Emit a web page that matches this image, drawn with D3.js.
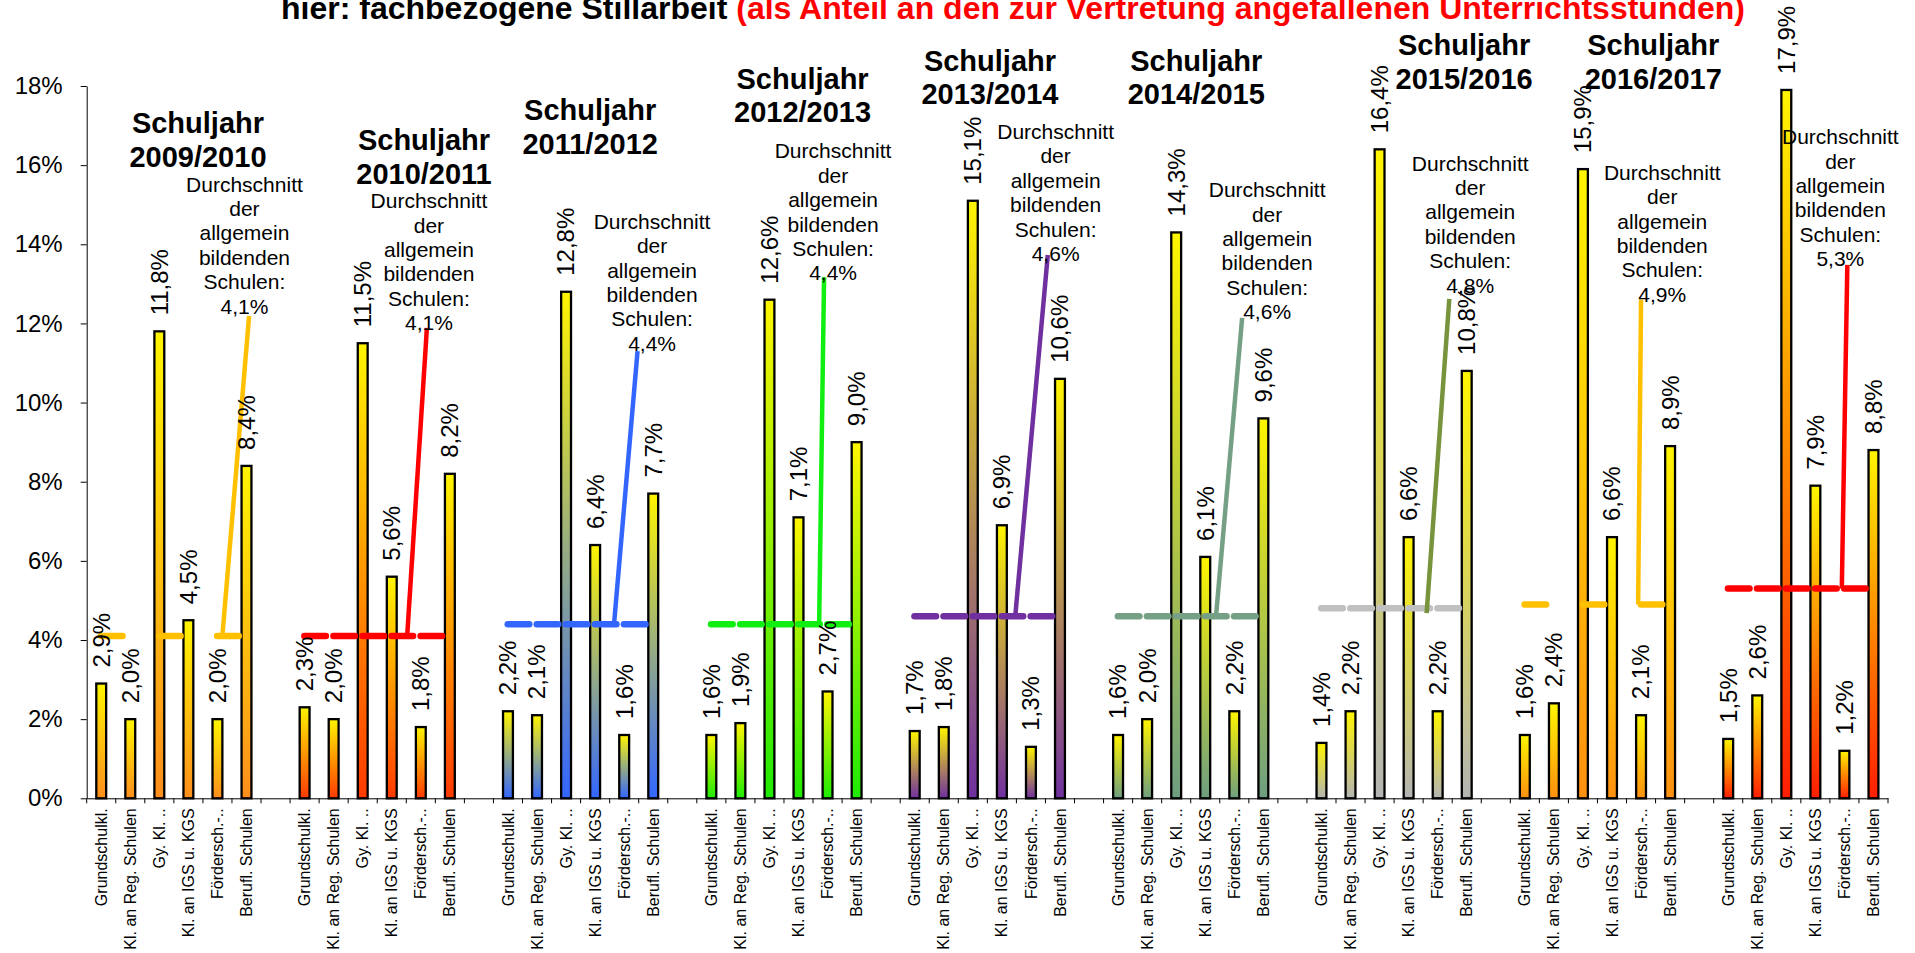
<!DOCTYPE html>
<html lang="de">
<head>
<meta charset="utf-8">
<title>Fachbezogene Stillarbeit</title>
<script src="https://cdn.jsdelivr.net/npm/d3@7"></script>
<style>
  html, body { margin: 0; padding: 0; background: #fff; }
  svg { display: block; font-family: "Liberation Sans", Arial, sans-serif; }
</style>
</head>
<body>
<svg id="chart" width="1915" height="953"></svg>
<script>
// ---- Daten ----------------------------------------------------------------
const schoolYears = ["2009/2010", "2010/2011", "2011/2012", "2012/2013", "2013/2014",
                     "2014/2015", "2015/2016", "2016/2017", "2017/2018"];
const schoolTypes = ["Grundschulkl.", "Kl. an Reg. Schulen", "Gy. Kl. ..",
                     "Kl. an IGS u. KGS", "Fördersch.-..", "Berufl. Schulen"];

const sj2009 = [2.9, 2.0, 11.8, 4.5, 2.0, 8.4];
const sj2010 = [2.3, 2.0, 11.5, 5.6, 1.8, 8.2];
const sj2011 = [2.2, 2.1, 12.8, 6.4, 1.6, 7.7];
const sj2012 = [1.6, 1.9, 12.6, 7.1, 2.7, 9.0];
const sj2013 = [1.7, 1.8, 15.1, 6.9, 1.3, 10.6];
const sj2014 = [1.6, 2.0, 14.3, 6.1, 2.2, 9.6];
const sj2015 = [1.4, 2.2, 16.4, 6.6, 2.2, 10.8];
const sj2016 = [1.6, 2.4, 15.9, 6.6, 2.1, 8.9];
const sj2017 = [1.5, 2.6, 17.9, 7.9, 1.2, 8.8];
const seriesValues = [sj2009, sj2010, sj2011, sj2012, sj2013, sj2014, sj2015, sj2016, sj2017];

// Durchschnitt der allgemein bildenden Schulen je Schuljahr
const averageGeneral = [4.1, 4.1, 4.4, 4.4, 4.6, 4.6, 4.8, 4.9, 5.3];

const yTicks = [0, 2, 4, 6, 8, 10, 12, 14, 16, 18];

// ---- Farben ---------------------------------------------------------------
const barColors    = ["#FF8E1C", "#FF3A00", "#3366FF", "#1EEB00", "#7030A0",
                      "#6E9E80", "#B4B4B4", "#FF9010", "#FF1E00"];
const avgColors    = ["#FFC000", "#FF0000", "#3366FF", "#11EE11", "#7030A0",
                      "#76A085", "#C0C0C0", "#FFC000", "#FF0000"];
const leaderColors = ["#FFC000", "#FF0000", "#3366FF", "#11EE11", "#7030A0",
                      "#76A085", "#77933C", "#FFC000", "#FF0000"];
// gestrichelte Durchschnittslinie (nur jede zweite Teilstrecke)
const avgDashed = [true, false, false, false, false, false, false, true, false];

// ---- Beschriftungspositionen (Spalteneinheiten innerhalb der Gruppe, Prozentwerte) ----
const yearTitlePos   = [[3.83, 16.81], [4.61, 16.38], [3.33, 17.14], [3.64, 17.93], [3.09, 18.39],
                        [3.19, 18.39], [5.41, 18.78], [4.92, 18.78], null];
const avgLabelPos    = [[5.43, 15.33], [4.78, 14.91], [5.46, 14.39], [4.69, 16.17], [5.35, 16.66],
                        [5.63, 15.19], [5.62, 15.86], [5.23, 15.63], [4.36, 16.53]];
const leaderFrom     = [[4.67, 4.1], [4.03, 4.1], [4.15, 4.4], [4.21, 4.4], [3.96, 4.6],
                        [3.87, 4.6], [4.12, 4.68], [4.40, 4.9], [4.41, 5.3]];
const leaderTo       = [[5.59, 12.19], [4.71, 11.89], [4.96, 11.30], [4.38, 13.17], [5.08, 13.73],
                        [4.77, 12.14], [4.90, 12.62], [4.50, 12.60], [4.60, 13.48]];

// ---- Aufbau ---------------------------------------------------------------
const svg = d3.select("#chart");
const FONT = "'Liberation Sans', Arial, sans-serif";
const plot = { left: 86.7, right: 1888, top: 86, bottom: 798.3 };
const groupSize = schoolTypes.length + 1;   // sechs Säulen + eine Leerspalte

const slotKeys = [];
schoolYears.forEach((yr, g) => {
  schoolTypes.forEach((t, i) => slotKeys.push(`${g}|${i}`));
  if (g < schoolYears.length - 1) slotKeys.push(`gap|${g}`);
});

const x = d3.scaleBand().domain(slotKeys).range([plot.left, plot.right]).padding(0);
const slot = d3.scaleLinear().domain([0, slotKeys.length]).range([plot.left, plot.right]);
const y = d3.scaleLinear().domain([0, 18]).range([plot.bottom, plot.top]);

const cx = (g, i) => x(`${g}|${i}`) + x.bandwidth() / 2;
const gx = (g, u) => slot(g * groupSize + u);

const de = d3.formatLocale({ decimal: ",", thousands: ".", grouping: [3], currency: ["", " €"] });
const pct1 = v => de.format(".1f")(v) + "%";

svg.append("rect").attr("width", 1915).attr("height", 953).attr("fill", "#fff");

// Farbverläufe der Säulen
const defs = svg.append("defs");
barColors.forEach((c, g) => {
  const lg = defs.append("linearGradient").attr("id", `fill${g}`)
    .attr("x1", 0).attr("y1", 0).attr("x2", 0).attr("y2", 1);
  lg.append("stop").attr("offset", "0%").attr("stop-color", "#FFF500");
  lg.append("stop").attr("offset", "40%").attr("stop-color", d3.interpolateRgb("#FFF500", c)(0.4));
  lg.append("stop").attr("offset", "100%").attr("stop-color", c);
});

// Titel (oberer Teil liegt außerhalb der Fläche)
const title = svg.append("text")
  .attr("x", 1013).attr("y", 19)
  .attr("text-anchor", "middle")
  .attr("font-family", FONT).attr("font-weight", "bold").attr("font-size", 32);
title.append("tspan").attr("fill", "#000").text("hier: fachbezogene Stillarbeit ");
title.append("tspan").attr("fill", "#FF0000")
  .text("(als Anteil an den zur Vertretung angefallenen Unterrichtsstunden)");

// y-Achse
const yAxis = svg.append("g")
  .attr("transform", `translate(${plot.left},0)`)
  .call(d3.axisLeft(y).tickValues(yTicks).tickFormat(d => d + "%")
        .tickSize(6).tickSizeOuter(0).tickPadding(18));
yAxis.attr("font-family", FONT).attr("font-size", 24);
yAxis.selectAll("text").attr("fill", "#000");
yAxis.selectAll("line, path").attr("stroke", "#000");

// x-Achse
const xAxis = svg.append("g")
  .attr("transform", `translate(0,${plot.bottom})`)
  .call(d3.axisBottom(x).tickSize(0).tickSizeOuter(0).tickPadding(0)
        .tickFormat(k => { const [a, b] = k.split("|"); return a === "gap" ? "" : schoolTypes[+b]; }));
xAxis.attr("font-family", FONT).attr("font-size", 16);
xAxis.select("path.domain").attr("stroke", "#000");
xAxis.selectAll(".tick text")
  .attr("fill", "#000")
  .attr("transform", "rotate(-90)")
  .attr("text-anchor", "end")
  .attr("x", -10).attr("y", 0).attr("dy", "0.35em");
xAxis.selectAll("line.slot-tick")
  .data(d3.range(slotKeys.length + 1))
  .join("line").attr("class", "slot-tick")
  .attr("x1", i => slot(i)).attr("x2", i => slot(i))
  .attr("y1", 0).attr("y2", 5)
  .attr("stroke", "#000");

// Säulen
const bars = seriesValues.flatMap((vals, g) => vals.map((v, i) => ({ g, i, v })));
const barW = x.bandwidth() * 0.34;
svg.append("g").selectAll("rect")
  .data(bars).join("rect")
  .attr("x", d => cx(d.g, d.i) - barW / 2)
  .attr("width", barW)
  .attr("y", d => y(d.v))
  .attr("height", d => y(0) - y(d.v))
  .attr("fill", d => `url(#fill${d.g})`)
  .attr("stroke", "#000").attr("stroke-width", 2.3);

// Durchschnittslinien (waagerecht)
const capR = 3.25;
const avgSegments = averageGeneral.flatMap((avg, g) => {
  const pairs = avgDashed[g] ? [[0, 1], [2, 3], [4, 5]] : [[0, 1], [1, 2], [2, 3], [3, 4], [4, 5]];
  return pairs.map(([a, b]) => ({ g, a, b, avg }));
});
svg.append("g").selectAll("line")
  .data(avgSegments).join("line")
  .attr("x1", d => cx(d.g, d.a) - 3.5 + capR)
  .attr("x2", d => cx(d.g, d.b) - 4.5 - capR)
  .attr("y1", d => y(d.avg)).attr("y2", d => y(d.avg))
  .attr("stroke", d => avgColors[d.g])
  .attr("stroke-width", capR * 2)
  .attr("stroke-linecap", "round");

// Verbindungslinien zu den Durchschnittsbeschriftungen
svg.append("g").selectAll("line")
  .data(averageGeneral.map((avg, g) => ({ g, from: leaderFrom[g], to: leaderTo[g] })))
  .join("line")
  .attr("x1", d => gx(d.g, d.from[0])).attr("y1", d => y(d.from[1]))
  .attr("x2", d => gx(d.g, d.to[0])).attr("y2", d => y(d.to[1]))
  .attr("stroke", d => leaderColors[d.g])
  .attr("stroke-width", 4.5);

// Werte über den Säulen
svg.append("g").selectAll("text")
  .data(bars).join("text")
  .attr("transform", d => `translate(${cx(d.g, d.i)},${y(d.v) - 16}) rotate(-90)`)
  .attr("dy", "0.35em")
  .attr("font-family", FONT).attr("font-size", 24).attr("fill", "#000")
  .text(d => pct1(d.v));

// Beschriftung "Durchschnitt der allgemein bildenden Schulen"
const avgLabels = svg.append("g").selectAll("text")
  .data(averageGeneral.map((avg, g) => ({ g, avg, pos: avgLabelPos[g] })))
  .join("text")
  .attr("text-anchor", "middle")
  .attr("font-family", FONT).attr("font-size", 21).attr("fill", "#000");
avgLabels.each(function (d) {
  const lines = ["Durchschnitt", "der", "allgemein", "bildenden", "Schulen:", pct1(d.avg)];
  const t = d3.select(this);
  lines.forEach((line, k) => {
    t.append("tspan")
      .attr("x", gx(d.g, d.pos[0]))
      .attr("y", y(d.pos[1]) + k * 24.4)
      .text(line);
  });
});

// Schuljahr-Überschriften
const yearLabels = svg.append("g").selectAll("text")
  .data(schoolYears.map((yr, g) => ({ g, yr, pos: yearTitlePos[g] })).filter(d => d.pos))
  .join("text")
  .attr("text-anchor", "middle")
  .attr("font-family", FONT).attr("font-size", 29).attr("font-weight", "bold").attr("fill", "#000");
yearLabels.each(function (d) {
  const t = d3.select(this);
  ["Schuljahr", d.yr].forEach((line, k) => {
    t.append("tspan")
      .attr("x", gx(d.g, d.pos[0]))
      .attr("y", y(d.pos[1]) + k * 33.5)
      .text(line);
  });
});
</script>
</body>
</html>
